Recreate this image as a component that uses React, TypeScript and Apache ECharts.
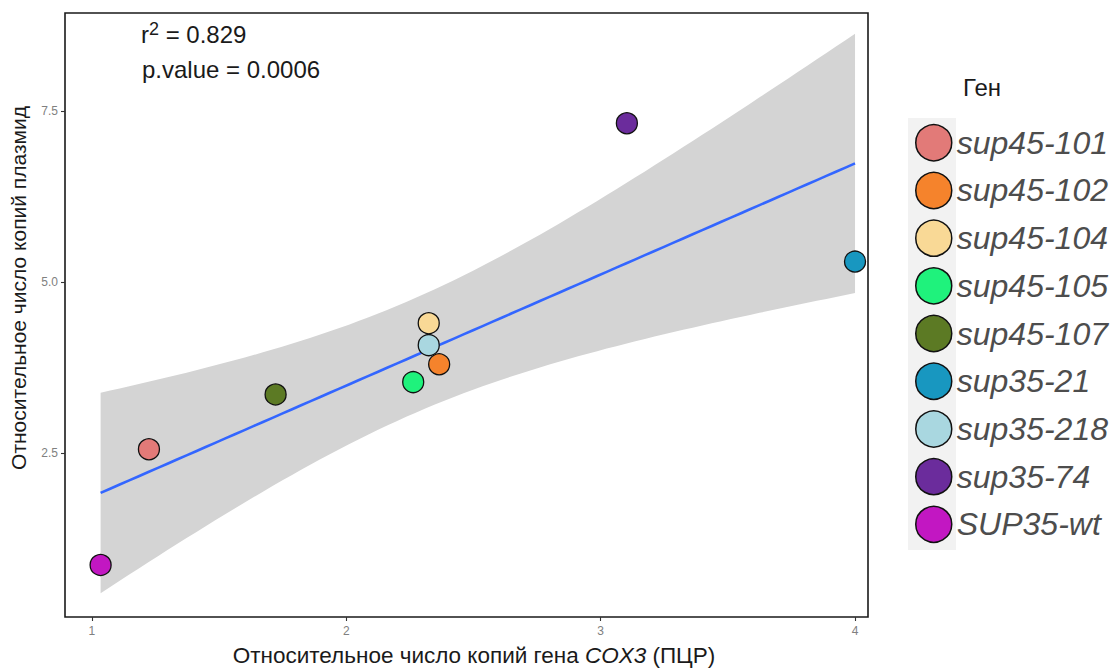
import React, { useEffect, useRef } from "react";
import * as echarts from "echarts";

// Relative copy numbers per strain: COX3 (qPCR) vs plasmid copy number
const genes = [
  "sup45-101",
  "sup45-102",
  "sup45-104",
  "sup45-105",
  "sup45-107",
  "sup35-21",
  "sup35-218",
  "sup35-74",
  "SUP35-wt",
];
const cox3Copies = [1.224, 2.365, 2.324, 2.263, 1.722, 4.0, 2.324, 3.103, 1.034];
const plasmidCopies = [2.56, 3.8, 4.4, 3.54, 3.36, 5.3, 4.08, 7.32, 0.87];
const geneColors = [
  "#e27a78",
  "#f5832c",
  "#f9d996",
  "#1ff27c",
  "#5c7a24",
  "#1897c0",
  "#a9d7e0",
  "#6b2c9c",
  "#c217c2",
];

const xTicks = [1, 2, 3, 4];
const yTicks = [2.5, 5.0, 7.5];
const statLines = ["0.829", "0.0006"];

// Student t quantile (0.975, df = n - 2 = 7) for the 95% confidence band
const tCrit = 2.365;
const fitSteps = 80;

// Ordinary least squares fit with the confidence band of the mean
function linearFit(xs: number[], ys: number[]) {
  const n = xs.length;
  const mx = xs.reduce((a, b) => a + b, 0) / n;
  const my = ys.reduce((a, b) => a + b, 0) / n;
  let sxx = 0;
  let sxy = 0;
  for (let i = 0; i < n; i++) {
    sxx += (xs[i] - mx) ** 2;
    sxy += (xs[i] - mx) * (ys[i] - my);
  }
  const slope = sxy / sxx;
  const intercept = my - slope * mx;
  let sse = 0;
  for (let i = 0; i < n; i++) sse += (ys[i] - (intercept + slope * xs[i])) ** 2;
  const s = Math.sqrt(sse / (n - 2));
  const x0 = Math.min(...xs);
  const x1 = Math.max(...xs);
  const line: number[][] = [];
  const upper: number[][] = [];
  const lower: number[][] = [];
  for (let k = 0; k < fitSteps; k++) {
    const x = x0 + ((x1 - x0) * k) / (fitSteps - 1);
    const y = intercept + slope * x;
    const hw = tCrit * s * Math.sqrt(1 / n + (x - mx) ** 2 / sxx);
    line.push([x, y]);
    upper.push([x, y + hw]);
    lower.push([x, y - hw]);
  }
  return { line, upper, lower };
}

const FONT = "'Liberation Sans', Arial, Helvetica, sans-serif";

export default function App() {
  const ref = useRef<HTMLDivElement>(null);

  useEffect(() => {
    if (!ref.current) return;
    const chart = echarts.init(ref.current, undefined, { renderer: "svg" });
    const fit = linearFit(cox3Copies, plasmidCopies);

    const pointSeries = genes.map((g, i) => ({
      name: g,
      type: "scatter",
      z: 4,
      symbol: "circle",
      symbolSize: 21,
      itemStyle: {
        color: geneColors[i],
        borderColor: "#111",
        borderWidth: 1.3,
        opacity: 1,
      },
      data: [[cox3Copies[i], plasmidCopies[i]]],
    }));

    chart.setOption({
      animation: false,
      backgroundColor: "#ffffff",
      textStyle: { fontFamily: FONT },
      grid: {
        left: 65,
        top: 13,
        right: 252,
        bottom: 52,
        show: true,
        borderColor: "#1a1a1a",
        borderWidth: 1.6,
        backgroundColor: "transparent",
      },
      xAxis: {
        type: "value",
        min: 0.894,
        max: 4.051,
        splitLine: { show: false },
        axisLine: { show: false },
        axisTick: {
          show: true,
          length: 4,
          customValues: xTicks,
          lineStyle: { color: "#333", width: 1.1 },
        },
        axisLabel: {
          customValues: xTicks,
          color: "#808080",
          fontSize: 12,
          margin: 8,
          fontFamily: FONT,
          formatter: (v: number) => String(v),
        },
      },
      yAxis: {
        type: "value",
        min: 0.11,
        max: 8.93,
        splitLine: { show: false },
        axisLine: { show: false },
        axisTick: {
          show: true,
          length: 4,
          customValues: yTicks,
          lineStyle: { color: "#333", width: 1.1 },
        },
        axisLabel: {
          customValues: yTicks,
          color: "#808080",
          fontSize: 12,
          margin: 7,
          fontFamily: FONT,
          formatter: (v: number) => v.toFixed(1),
        },
      },
      legend: {
        orient: "vertical",
        left: 915,
        top: 124,
        padding: 0,
        itemWidth: 36,
        itemHeight: 36,
        itemGap: 10.2,
        icon: "circle",
        selectedMode: false,
        data: genes,
        itemStyle: { borderColor: "#111", borderWidth: 1.5 },
        textStyle: {
          fontSize: 32,
          lineHeight: 36,
          fontStyle: "italic",
          color: "#4d4d4d",
          fontFamily: FONT,
        },
      },
      graphic: [
        {
          type: "rect",
          z: -1,
          shape: { x: 908, y: 118, width: 48, height: 432 },
          style: { fill: "#f2f2f2" },
        },
        {
          type: "text",
          left: 963,
          top: 75,
          style: { text: "Ген", font: `24px ${FONT}`, fill: "#1a1a1a" },
        },
        {
          type: "text",
          left: 141,
          top: 20,
          style: {
            text: `r{sup|2} = ${statLines[0]}`,
            font: `24px ${FONT}`,
            fill: "#1a1a1a",
            rich: {
              sup: {
                fontSize: 18,
                fontFamily: FONT,
                fill: "#1a1a1a",
                verticalAlign: "bottom",
                padding: [0, 0, 10, 0],
              },
            },
          },
        },
        {
          type: "text",
          left: 142,
          top: 57,
          style: {
            text: `p.value = ${statLines[1]}`,
            font: `24px ${FONT}`,
            fill: "#1a1a1a",
          },
        },
        {
          type: "text",
          x: 474,
          y: 655,
          style: {
            text: "Относительное число копий гена {i|COX3} (ПЦР)",
            font: `22.5px ${FONT}`,
            fill: "#1a1a1a",
            align: "center",
            verticalAlign: "middle",
            rich: {
              i: { fontStyle: "italic", fontSize: 22.5, fontFamily: FONT, fill: "#1a1a1a" },
            },
          },
        },
        {
          type: "text",
          x: 18,
          y: 288,
          rotation: Math.PI / 2,
          style: {
            text: "Относительное число копий плазмид",
            font: `21px ${FONT}`,
            fill: "#1a1a1a",
            align: "center",
            verticalAlign: "middle",
          },
        },
      ],
      series: [
        {
          name: "band",
          type: "custom",
          z: 1,
          silent: true,
          data: [[fit.line[0][0], fit.line[0][1]]],
          renderItem: (_params: any, api: any) => {
            const pts = [
              ...fit.upper.map((p) => api.coord(p)),
              ...fit.lower
                .slice()
                .reverse()
                .map((p) => api.coord(p)),
            ];
            return {
              type: "polygon",
              shape: { points: pts },
              style: { fill: "#d4d4d4" },
            };
          },
        },
        {
          name: "fit",
          type: "line",
          z: 2,
          silent: true,
          showSymbol: false,
          symbol: "none",
          data: fit.line,
          lineStyle: { color: "#3366ff", width: 2.6 },
        },
        ...pointSeries,
      ],
    });

    return () => chart.dispose();
  }, []);

  return (
    <div
      ref={ref}
      style={{ position: "fixed", left: 0, top: 0, width: 1120, height: 669 }}
    />
  );
}
